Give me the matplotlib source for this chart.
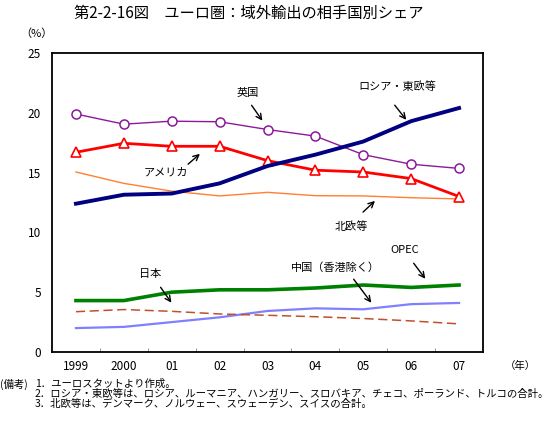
import matplotlib.pyplot as plt
import numpy as np

plt.rcParams['font.family'] = ['Noto Sans CJK JP', 'DejaVu Sans']

years = ['1999', '2000', '01', '02', '03', '04', '05', '06', '07']
uk = [19.9, 19.05, 19.3, 19.25, 18.6, 18.05, 16.5, 15.7, 15.35]
usa = [16.7, 17.45, 17.2, 17.2, 16.0, 15.2, 15.05, 14.5, 13.0]
russia_east = [12.4, 13.15, 13.25, 14.1, 15.55, 16.5, 17.6, 19.3, 20.4]
nordic = [15.05, 14.1, 13.45, 13.05, 13.35, 13.07, 13.05, 12.9, 12.8]
opec = [4.3, 4.3, 5.0, 5.2, 5.2, 5.35, 5.6, 5.4, 5.6]
japan = [3.37, 3.55, 3.4, 3.18, 3.07, 2.95, 2.8, 2.6, 2.35]
china = [2.0, 2.1, 2.5, 2.9, 3.43, 3.65, 3.57, 4.0, 4.1]

fig = plt.figure(figsize=(5.5, 4.22), dpi=100)
ax = fig.add_axes([52 / 550, 1 - 352 / 422, 431 / 550, 299 / 422])
x = np.arange(len(years))

ax.plot(x, china, color='#8080ff', lw=1.6)
ax.plot(x, japan, color='#c0502d', lw=1.1, dashes=(6, 3))
ax.plot(x, opec, color='#008000', lw=2.6)
ax.plot(x, nordic, color='#ff8030', lw=1.0)
ax.plot(x, uk, color='#8b1a9b', lw=1.0, marker='o', ms=6.5, mfc='white', mec='#8b1a9b', mew=1.1)
ax.plot(x, usa, color='#ff0000', lw=2.0, marker='^', ms=6.5, mfc='white', mec='#ff0000', mew=1.2)
ax.plot(x, russia_east, color='#000080', lw=2.8)

ax.set_xlim(-0.5, 8.5)
ax.set_ylim(0, 25)
ax.set_yticks([0, 5, 10, 15, 20, 25])
ax.set_xticks(x)
ax.set_xticklabels(years)
ax.set_xticks(np.arange(0.5, 8), minor=True)
ax.tick_params(axis='both', which='major', length=0, labelsize=8.5)
ax.tick_params(axis='x', which='major', pad=6)
ax.tick_params(axis='y', which='major', pad=8)
ax.tick_params(axis='x', which='minor', direction='in', length=3, color='#888888')
for s in ax.spines.values():
    s.set_linewidth(1.3)


def note(label, tx, ty, x0, y0, x1, y1):
    # positions in figure pixels (top-left origin)
    fig.text(tx / 550, 1 - ty / 422, label, ha='center', va='center', fontsize=8)
    ax.annotate('', xy=(x1 / 550, 1 - y1 / 422), xytext=(x0 / 550, 1 - y0 / 422),
                xycoords='figure fraction', textcoords='figure fraction',
                arrowprops=dict(arrowstyle='->', color='black', lw=1.0))


note('英国', 248, 93, 250, 103, 264, 123)
note('ロシア・東欧等', 397, 87, 393, 103, 408, 122)
note('アメリカ', 166, 173, 186, 166, 202, 152)
note('北欧等', 351, 227, 361, 214, 377, 199)
note('OPEC', 405, 250, 412, 261, 427, 281)
note('中国（香港除く）', 335, 268, 352, 277, 373, 305)
note('日本', 150, 274, 159, 285, 173, 305)

fig.text(249 / 550, 1 - 13 / 422, '第2-2-16図　ユーロ圏：域外輸出の相手国別シェア',
         ha='center', va='center', fontsize=11)
fig.text(36 / 550, 1 - 34 / 422, '（%）', ha='center', va='center', fontsize=8)
fig.text(520 / 550, 1 - 366 / 422, '（年）', ha='center', va='center', fontsize=7.5)

fig.text(0, 1 - 384 / 422, '(備考)', ha='left', va='center', fontsize=7.5)
fig.text(35 / 550, 1 - 384 / 422, '1．ユーロスタットより作成。', ha='left', va='center', fontsize=7.5)
fig.text(35 / 550, 1 - 394 / 422,
         '2．ロシア・東欧等は、ロシア、ルーマニア、ハンガリー、スロバキア、チェコ、ポーランド、トルコの合計。',
         ha='left', va='center', fontsize=7.5)
fig.text(35 / 550, 1 - 404 / 422,
         '3．北欧等は、デンマーク、ノルウェー、スウェーデン、スイスの合計。',
         ha='left', va='center', fontsize=7.5)

fig.savefig('out.png', dpi=100)
